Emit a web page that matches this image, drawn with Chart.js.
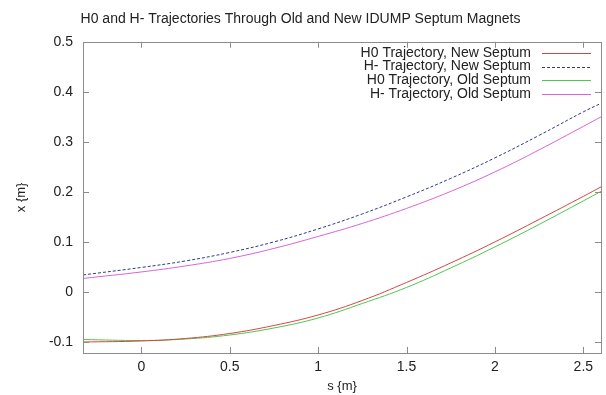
<!DOCTYPE html>
<html>
<head>
<meta charset="utf-8">
<script src="https://cdn.jsdelivr.net/npm/chart.js@4.4.0/dist/chart.umd.min.js"></script>
<style>
  html, body { margin: 0; padding: 0; background: #fff; }
  #wrap { width: 606px; height: 395px; }
</style>
</head>
<body>
<div id="wrap"><canvas id="grafico" width="606" height="395"></canvas></div>
<script>
// posiciones s (m) donde se leyeron las curvas
const sPos = [-0.33, 0, 0.25, 0.5, 0.75, 1, 1.25, 1.5, 1.75, 2, 2.25, 2.5, 2.6];

const h0Nuevo = [-0.100, -0.098, -0.093, -0.083, -0.067, -0.046, -0.017, 0.019, 0.058, 0.100, 0.145, 0.191, 0.210];
const hmNuevo = [0.034, 0.049, 0.062, 0.079, 0.100, 0.126, 0.156, 0.190, 0.227, 0.268, 0.313, 0.360, 0.377];
const h0Viejo = [-0.095, -0.097, -0.094, -0.086, -0.072, -0.052, -0.023, 0.009, 0.048, 0.090, 0.135, 0.182, 0.201];
const hmViejo = [0.027, 0.040, 0.052, 0.067, 0.087, 0.111, 0.137, 0.167, 0.201, 0.240, 0.284, 0.331, 0.350];

const etiquetas = [
  "H0 Trajectory, New Septum",
  "H- Trajectory, New Septum",
  "H0 Trajectory, Old Septum",
  "H- Trajectory, Old Septum",
];

const xTicks = [0, 0.5, 1, 1.5, 2, 2.5];
const yTicks = [-0.1, 0, 0.1, 0.2, 0.3, 0.4, 0.5];

const fuente = "'Liberation Sans', Arial, sans-serif";

function puntos(ys) {
  return sPos.map((s, i) => ({ x: s, y: ys[i] }));
}

function serie(label, ys, color, dash) {
  return {
    label: label,
    data: puntos(ys),
    borderColor: color,
    borderWidth: 1,
    borderDash: dash,
    pointRadius: 0,
    showLine: true,
    fill: false,
    tension: 0.4,
  };
}

/* marco gris con ticks hacia adentro, estilo gnuplot */
const marco = {
  id: "marco",
  afterDatasetsDraw(chart) {
    const ctx = chart.ctx;
    const a = chart.chartArea;
    const sx = chart.scales.x;
    const sy = chart.scales.y;
    ctx.save();
    ctx.strokeStyle = "#8c8c8c";
    ctx.lineWidth = 1;
    ctx.strokeRect(Math.round(a.left) + 0.5, Math.round(a.top) + 0.5,
      Math.round(a.right - a.left), Math.round(a.bottom - a.top));
    ctx.beginPath();
    xTicks.forEach((v) => {
      const px = Math.round(sx.getPixelForValue(v)) + 0.5;
      ctx.moveTo(px, a.bottom); ctx.lineTo(px, a.bottom - 6);
      ctx.moveTo(px, a.top); ctx.lineTo(px, a.top + 6);
    });
    yTicks.forEach((v) => {
      const py = Math.round(sy.getPixelForValue(v)) + 0.5;
      ctx.moveTo(a.left, py); ctx.lineTo(a.left + 6, py);
      ctx.moveTo(a.right, py); ctx.lineTo(a.right - 6, py);
    });
    ctx.stroke();
    ctx.restore();
  },
};

/* leyenda: texto alineado a la derecha y muestra de linea a su derecha */
const leyenda = {
  id: "leyenda",
  afterDraw(chart) {
    const ctx = chart.ctx;
    const a = chart.chartArea;
    ctx.save();
    ctx.font = "14px " + fuente;
    ctx.textAlign = "right";
    ctx.textBaseline = "middle";
    chart.data.datasets.forEach((ds, i) => {
      const y = a.top + 11 + i * 13.8;
      ctx.fillStyle = "#222";
      ctx.fillText(ds.label, a.right - 70, y);
      ctx.strokeStyle = ds.borderColor;
      ctx.lineWidth = 1;
      ctx.setLineDash(ds.borderDash || []);
      ctx.beginPath();
      ctx.moveTo(a.right - 59, Math.round(y) + 0.5);
      ctx.lineTo(a.right - 10, Math.round(y) + 0.5);
      ctx.stroke();
    });
    ctx.restore();
  },
};

const canvas = document.getElementById("grafico");

const config = {
  type: "scatter",
  data: {
    datasets: [
      serie(etiquetas[0], h0Nuevo, "#d64545", []),
      serie(etiquetas[1], hmNuevo, "#2e3a8c", [3, 2]),
      serie(etiquetas[2], h0Viejo, "#4cc84c", []),
      serie(etiquetas[3], hmViejo, "#d865d8", []),
    ],
  },
  options: {
    responsive: false,
    animation: false,
    layout: { padding: { left: 0, right: 5, top: 0, bottom: 0 } },
    plugins: {
      legend: { display: false },
      tooltip: { enabled: false },
      title: {
        display: true,
        text: "H0 and H- Trajectories Through Old and New IDUMP Septum Magnets",
        color: "#222",
        font: { family: fuente, size: 14, weight: "normal" },
        padding: { top: 11, bottom: 14 },
      },
    },
    scales: {
      x: {
        type: "linear",
        min: -0.33,
        max: 2.6,
        afterBuildTicks: (scale) => {
          scale.ticks = xTicks.map((v) => ({ value: v }));
        },
        afterFit: (scale) => { scale.height = 42; },
        grid: { display: false, drawTicks: false },
        border: { display: false },
        ticks: {
          color: "#222",
          font: { family: fuente, size: 14 },
          padding: 6,
          maxRotation: 0,
          callback: (v) => String(v),
        },
        title: {
          display: true,
          text: "s {m}",
          color: "#222",
          font: { family: fuente, size: 13 },
          padding: { top: 0, bottom: 1 },
        },
      },
      y: {
        type: "linear",
        min: -0.122,
        max: 0.5,
        afterBuildTicks: (scale) => {
          scale.ticks = yTicks.map((v) => ({ value: v }));
        },
        afterFit: (scale) => { scale.width = 83; },
        grid: { display: false, drawTicks: false },
        border: { display: false },
        ticks: {
          color: "#222",
          font: { family: fuente, size: 14 },
          padding: 10,
          callback: (v) => String(v),
        },
        title: {
          display: true,
          text: "x {m}",
          color: "#222",
          font: { family: fuente, size: 13 },
          padding: { top: 14, bottom: 0 },
        },
      },
    },
  },
  plugins: [marco, leyenda],
};

new Chart(canvas, config);
</script>
</body>
</html>
